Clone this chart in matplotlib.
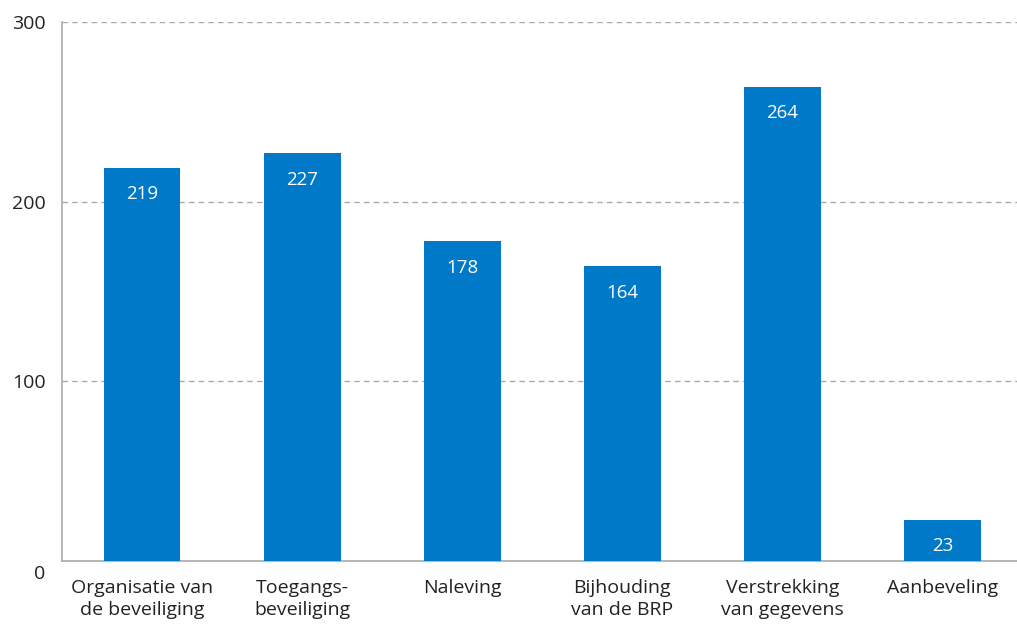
import matplotlib
matplotlib.use("Agg")
import matplotlib.pyplot as plt
import matplotlib.transforms as mtransforms

categories = ["Organisatie van\nde beveiliging", "Toegangs-\nbeveiliging", "Naleving",
              "Bijhouding\nvan de BRP", "Verstrekking\nvan gegevens", "Aanbeveling"]
values = [219, 227, 178, 164, 264, 23]
yticks = [0, 100, 200, 300]

plt.rcParams['font.family'] = ['Open Sans', 'DejaVu Sans']

fig = plt.figure(figsize=(10.17, 6.26), dpi=100)
ax = fig.add_axes([62 / 1017, 65 / 626, (1017 - 62) / 1017, 539 / 626])

x = list(range(len(values)))
ax.bar(x, values, width=0.48, color="#0079c8", zorder=3)
for xi, v in zip(x, values):
    ax.annotate(str(v), (xi, v), xytext=(0, -19), textcoords="offset points",
                ha="center", va="center", color="white", fontsize=13.5, zorder=4)

ax.set_xlim(-0.5, (1017 - 142.5) / 160)
ax.set_ylim(0, 300)
ax.set_yticks(yticks)
ax.set_yticklabels([str(t) for t in yticks], fontsize=14, color="#222222")
ax.set_xticks(x)
ax.set_xticklabels(categories, fontsize=14, color="#222222", linespacing=1.3)
ax.tick_params(axis="both", length=0)
ax.tick_params(axis="y", pad=12)
ax.tick_params(axis="x", pad=13)

# the 0 label sits a bit lower than the axis line
lbl0 = ax.get_yticklabels()[0]
lbl0.set_transform(lbl0.get_transform() + mtransforms.ScaledTranslation(0, -11 / 100, fig.dpi_scale_trans))

ax.yaxis.grid(True, linestyle=(0, (4, 3)), color="#aaaaaa", linewidth=1, zorder=0)
for s in ["top", "right"]:
    ax.spines[s].set_visible(False)
ax.spines["left"].set_color("#aaaaaa")
ax.spines["bottom"].set_color("#aaaaaa")
ax.spines["left"].set_linewidth(1.2)
ax.spines["bottom"].set_linewidth(1.2)

fig.savefig("out.png", dpi=100)
